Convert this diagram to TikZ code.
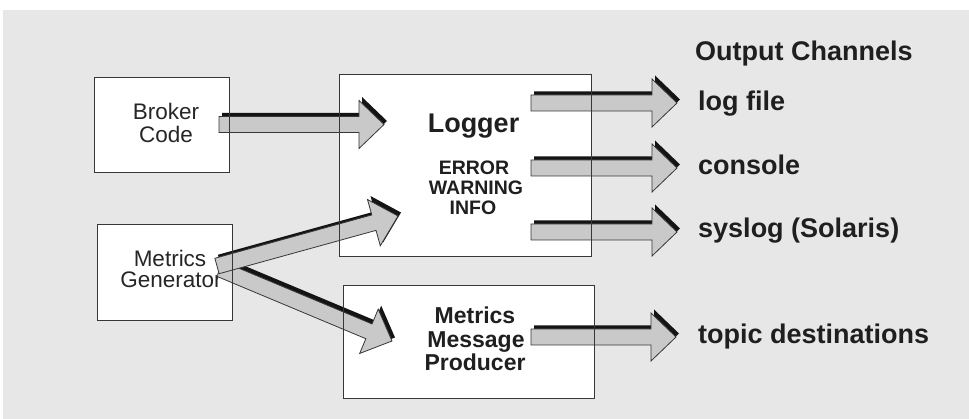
\documentclass[tikz,border=0pt]{standalone}
\usepackage{fontspec}
\setmainfont{Liberation Sans}
\definecolor{panel}{RGB}{230,231,230}
\definecolor{arrowgray}{RGB}{200,201,200}
\definecolor{edge}{RGB}{55,55,55}

\tikzset{
  boxfill/.style={fill=white, draw=none, inner sep=0pt, outer sep=0pt},
  boxedge/.style={draw=edge, line width=0.9pt},
  plaintxt/.style={font=\fontsize{22.5}{24}\selectfont, inner sep=0pt, anchor=base, text=black!85},
  titletxt/.style={font=\bfseries\fontsize{27}{29}\selectfont, inner sep=0pt, anchor=base, text=black!88},
  leveltxt/.style={font=\bfseries\fontsize{19.5}{21}\selectfont, inner sep=0pt, anchor=base, text=black!88},
  prodtxt/.style={font=\bfseries\fontsize{23}{25}\selectfont, inner sep=0pt, anchor=base, text=black!88},
  chantxt/.style={font=\bfseries\fontsize{27}{29}\selectfont, inner sep=0pt, anchor=base west, text=black!88},
  arrowbody/.style={fill=arrowgray, draw=edge, line width=0.8pt, line join=miter},
  arrowshadow/.style={fill=black!92},
}

% Block arrow with a drop shadow, from coordinate #1 to its tip at coordinate #2
\newcommand\fatarrow[2]{%
  \path (#1); \pgfgetlastxy{\faAx}{\faAy}%
  \path (#2); \pgfgetlastxy{\faBx}{\faBy}%
  \pgfmathsetmacro\faAng{atan2(\faBy-\faAy,\faBx-\faAx)}%
  \pgfmathsetmacro\faLen{veclen(\faBx-\faAx,\faBy-\faAy)}%
  \fill[arrowshadow, shift={(\faAx+3pt,\faAy+3.5pt)}, rotate=\faAng]
    (0,-8) -- (\faLen-25,-8) -- (\faLen-25,-24) -- (\faLen,0) --
    (\faLen-25,24) -- (\faLen-25,8) -- (0,8) -- cycle;
  \filldraw[arrowbody, shift={(\faAx,\faAy)}, rotate=\faAng]
    (0,-8) -- (\faLen-25,-8) -- (\faLen-25,-24) -- (\faLen,0) --
    (\faLen-25,24) -- (\faLen-25,8) -- (0,8) -- cycle;
}

\begin{document}
\begin{tikzpicture}[x=1pt,y=-1pt]
  \useasboundingbox (0,0) rectangle (969,419);
  \fill[white] (0,0) rectangle (969,419);
  \fill[panel] (3,10) rectangle (969,419);

  % component boxes (white bodies)
  \node[boxfill, minimum width=135pt, minimum height=95pt, anchor=north west] (broker) at (94,77) {};
  \node[boxfill, minimum width=135pt, minimum height=96pt, anchor=north west] (metgen) at (97,224) {};
  \node[boxfill, minimum width=252pt, minimum height=182pt, anchor=north west] (logger) at (339,74) {};
  \node[boxfill, minimum width=251pt, minimum height=113pt, anchor=north west] (producer) at (343,285) {};

  % box captions
  \node[plaintxt] (broker-l1) at (166,120) {Broker};
  \node[plaintxt] (broker-l2) at (166,143) {Code};
  \node[plaintxt] (metgen-l1) at (170,266.5) {Metrics};
  \node[plaintxt] (metgen-l2) at (171,288) {Generator};
  \node[titletxt] (logger-title) at (473.5,133) {Logger};
  \node[leveltxt] (lvl-error) at (474,175) {ERROR};
  \node[leveltxt] (lvl-warning) at (476,195) {WARNING};
  \node[leveltxt] (lvl-info) at (473,215) {INFO};
  \node[prodtxt] (prod-l1) at (475,324) {Metrics};
  \node[prodtxt] (prod-l2) at (476,347.5) {Message};
  \node[prodtxt] (prod-l3) at (475,370.5) {Producer};

  % output channel labels
  \node[chantxt] (ch-title) at (695,61) {Output Channels};
  \node[chantxt] (ch-log) at (698,111) {log file};
  \node[chantxt] (ch-console) at (698,175) {console};
  \node[chantxt] (ch-syslog) at (698,238) {syslog (Solaris)};
  \node[chantxt] (ch-topic) at (698,344) {topic destinations};

  % arrow ends
  \coordinate (bc-out) at (219,124.5);
  \coordinate (lg-in) at (384,124.5);
  \coordinate (mg-out1) at (217,266);
  \coordinate (lg-in2) at (398,216);
  \coordinate (mg-out2) at (220,269);
  \coordinate (mp-in) at (392,341);
  \coordinate (lg-out1) at (531,103);
  \coordinate (log-tip) at (677,103);
  \coordinate (lg-out2) at (531,168);
  \coordinate (con-tip) at (677,168);
  \coordinate (lg-out3) at (531,232);
  \coordinate (sys-tip) at (677,232);
  \coordinate (mp-out) at (531,337);
  \coordinate (topic-tip) at (676,337);

  \fatarrow{bc-out}{lg-in}
  \fatarrow{mg-out2}{mp-in}
  \fatarrow{mg-out1}{lg-in2}
  \fatarrow{lg-out1}{log-tip}
  \fatarrow{lg-out2}{con-tip}
  \fatarrow{lg-out3}{sys-tip}
  \fatarrow{mp-out}{topic-tip}

  % box outlines on top
  \draw[boxedge] (broker.north west) rectangle (broker.south east);
  \draw[boxedge] (metgen.north west) rectangle (metgen.south east);
  \draw[boxedge] (logger.north west) rectangle (logger.south east);
  \draw[boxedge] (producer.north west) rectangle (producer.south east);
\end{tikzpicture}
\end{document}
